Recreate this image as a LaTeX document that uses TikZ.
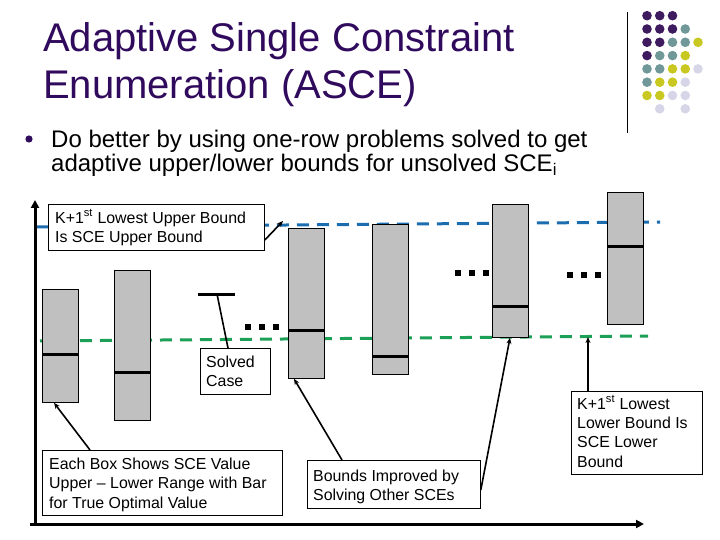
\documentclass[tikz,border=0pt]{standalone}
\usepackage{fontspec}
\setmainfont{Liberation Sans}
\usetikzlibrary{arrows.meta}
\definecolor{titlecol}{RGB}{48,10,92}
\definecolor{dpur}{RGB}{62,26,94}
\definecolor{dteal}{RGB}{112,152,152}
\definecolor{dyel}{RGB}{200,200,32}
\definecolor{dlav}{RGB}{214,214,232}
\definecolor{boxgray}{RGB}{192,192,192}
\definecolor{ubblue}{RGB}{28,108,176}
\definecolor{lbgreen}{RGB}{28,160,88}
\begin{document}
\begin{tikzpicture}[x=1pt,y=-1pt,
  gbox/.style={draw=black, line width=0.8pt, fill=boxgray, minimum width=36pt, anchor=north west, inner sep=0pt},
  lbox/.style={draw=black, line width=0.8pt, fill=white, anchor=north west, inner sep=0pt},
  ltext/.style={anchor=base west, inner sep=0pt, font=\fontsize{15.9}{19}\selectfont},
  optbar/.style={line width=3pt},
  conn/.style={line width=1.6pt},
  tipa/.style={-{Stealth[length=6pt,width=5pt]}},
  axis/.style={line width=3pt, -{Triangle[length=8pt,width=8pt]}},
  bnd/.style={line width=3pt, dash pattern=on 12pt off 8pt},
  dot/.style={radius=4.8pt}
]
\useasboundingbox (0,0) rectangle (720,540);
% decorative dot grid
\draw[line width=0.8pt] (627,12) -- (627,133);
\foreach \c/\r/\col in {
  1/1/dpur,2/1/dpur,3/1/dpur,
  1/2/dpur,2/2/dpur,3/2/dpur,4/2/dteal,
  1/3/dpur,2/3/dpur,3/3/dteal,4/3/dteal,5/3/dyel,
  1/4/dpur,2/4/dteal,3/4/dteal,4/4/dyel,
  1/5/dteal,2/5/dteal,3/5/dyel,4/5/dyel,5/5/dlav,
  1/6/dteal,2/6/dyel,3/6/dyel,4/6/dlav,
  1/7/dyel,2/7/dyel,3/7/dlav,4/7/dlav,
  2/8/dlav,4/8/dlav}
  \fill[\col] ({647+12.75*(\c-1)},{15.7+13.3*(\r-1)}) circle[dot];
% title
\node[anchor=base west, inner sep=0pt, text=titlecol, font=\fontsize{40}{46}\selectfont] (t1) at (43,52) {Adaptive Single Constraint};
\node[anchor=base west, inner sep=0pt, text=titlecol, font=\fontsize{40}{46}\selectfont] (t2) at (43,99) {Enumeration (ASCE)};
% bullet
\fill[titlecol] (29,139) circle[radius=3.6pt];
\node[anchor=base west, inner sep=0pt, font=\fontsize{24}{28}\selectfont] (bl1) at (51,148) {Do better by using one-row problems solved to get};
\node[anchor=base west, inner sep=0pt, font=\fontsize{24}{28}\selectfont] (bl2) at (51,172) {adaptive upper/lower bounds for unsolved SCE\textsubscript{i}};
% bound lines
\draw[bnd, ubblue] (37,227) -- (660,222);
\draw[bnd, lbgreen] (40,341) -- (648,336);
% axes
\coordinate (org) at (35,524);
\coordinate (ytop) at (35,200);
\coordinate (xl) at (30,524);
\coordinate (xr) at (644,524);
\draw[axis] (org) -- (ytop);
\draw[axis] (xl) -- (xr);
% gray boxes
\node[gbox, minimum height=113pt] (b1) at (42,289) {};
\node[gbox, minimum height=150pt] (b2) at (114,270) {};
\node[gbox, minimum height=150pt] (b3) at (288,228) {};
\node[gbox, minimum height=150pt] (b4) at (372,224) {};
\node[gbox, minimum height=133pt] (b5) at (492,204) {};
\node[gbox, minimum height=132pt] (b6) at (607,192) {};
\draw[optbar] (b1.west |- 0,354) -- (b1.east |- 0,354);
\draw[optbar] (b2.west |- 0,372) -- (b2.east |- 0,372);
\draw[optbar] (b3.west |- 0,330) -- (b3.east |- 0,330);
\draw[optbar] (b4.west |- 0,356) -- (b4.east |- 0,356);
\draw[optbar] (b5.west |- 0,306) -- (b5.east |- 0,306);
\draw[optbar] (b6.west |- 0,246) -- (b6.east |- 0,246);
% solved case bar
\coordinate (tbl) at (198,294);
\coordinate (tbr) at (235,294);
\coordinate (tbm) at (217,294);
\draw[optbar] (tbl) -- (tbr);
% ellipsis dots
\foreach \x/\y in {248/327,262/327,276/327,458/273,472/273,486/273,570/275,584/275,598/275}
  \fill (\x-3,\y-3) rectangle (\x+3,\y+3);
% label boxes
\node[lbox, minimum width=216pt, minimum height=46pt] (ub) at (48,204) {};
\node[ltext] (ubt1) at (55,223) {K+1\textsuperscript{st} Lowest Upper Bound};
\node[ltext] (ubt2) at (55,242) {Is SCE Upper Bound};
\node[lbox, minimum width=70pt, minimum height=46pt] (sc) at (200,348) {};
\node[ltext] (sct1) at (206,367) {Solved};
\node[ltext] (sct2) at (206,386) {Case};
\node[lbox, minimum width=240pt, minimum height=65pt] (eb) at (42,450) {};
\node[ltext] (ebt1) at (49,469) {Each Box Shows SCE Value};
\node[ltext] (ebt2) at (49,488) {Upper -- Lower Range with Bar};
\node[ltext] (ebt3) at (49,508) {for True Optimal Value};
\node[lbox, minimum width=173pt, minimum height=48pt] (bi) at (307,460) {};
\node[ltext] (bit1) at (313,481) {Bounds Improved by};
\node[ltext] (bit2) at (313,500) {Solving Other SCEs};
\node[lbox, minimum width=131pt, minimum height=83pt] (lb) at (571,391) {};
\node[ltext] (lbt1) at (577,409) {K+1\textsuperscript{st} Lowest};
\node[ltext] (lbt2) at (577,428) {Lower Bound Is};
\node[ltext] (lbt3) at (577,447) {SCE Lower};
\node[ltext] (lbt4) at (577,467) {Bound};
% connectors
\coordinate (ubtip) at (283,221);
\coordinate (lbtip) at (588,337);
\draw[conn, tipa] (ub.east |- 0,240) -- (ubtip);
\draw[conn] (sc.north -| 228,0) -- (tbm);
\draw[conn, tipa] (eb.north -| 90,0) -- (b1.south -| 54,0);
\draw[conn, tipa] (bi.north -| 342,0) -- (b3.south -| 294,0);
\draw[conn, tipa] (bi.east |- 0,490) -- (b5.south -| 510,0);
\draw[conn, tipa] (lb.north -| 588,0) -- (lbtip);
\end{tikzpicture}
\end{document}
